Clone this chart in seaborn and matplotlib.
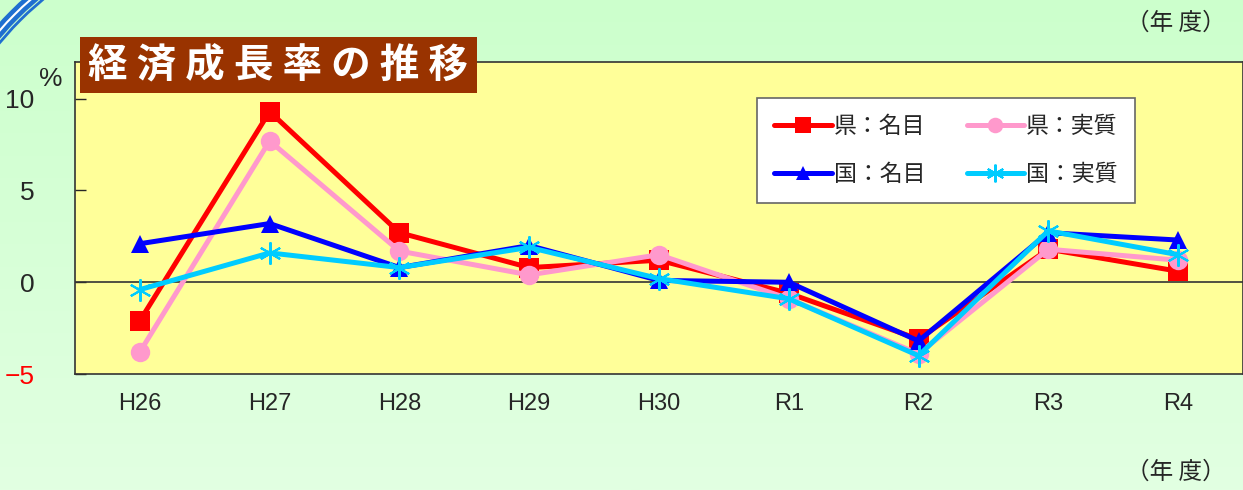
"""
経済成長率の推移（県・国　名目／実質）
"""

import matplotlib.pyplot as plt
import numpy as np
import pandas as pd
import seaborn as sns
from matplotlib import font_manager
from matplotlib.patches import Rectangle, Arc

years = ["H26", "H27", "H28", "H29", "H30", "R1", "R2", "R3", "R4"]
ken_nominal = [-2.1, 9.3, 2.7, 0.8, 1.2, -0.6, -3.1, 1.8, 0.6]
ken_real = [-3.8, 7.7, 1.7, 0.4, 1.5, -0.9, -3.9, 1.8, 1.2]
kuni_nominal = [2.1, 3.2, 0.8, 2.0, 0.1, 0.0, -3.2, 2.7, 2.3]
kuni_real = [-0.4, 1.6, 0.8, 1.9, 0.2, -0.9, -4.0, 2.8, 1.5]

series_names = ["県：名目", "県：実質", "国：名目", "国：実質"]
series_values = [ken_nominal, ken_real, kuni_nominal, kuni_real]
colors = ["#ff0000", "#ff99cc", "#0000ff", "#00ccff"]
markers = ["s", "o", "^", (6, 2, 0)]
msizes = [14, 14, 13, 16]

df = pd.DataFrame({
    "year": years * 4,
    "rate": sum(series_values, []),
    "series": np.repeat(series_names, len(years)),
})

sns.set_theme(style="white")
jp = "Noto Sans CJK JP"
avail = {f.name for f in font_manager.fontManager.ttflist}
num_font = "Liberation Sans Narrow" if "Liberation Sans Narrow" in avail else "Liberation Sans"
plt.rcParams["font.family"] = [jp, "DejaVu Sans"]

fig = plt.figure(figsize=(12.43, 4.90), dpi=100)

# 背景グラデーション
bg = fig.add_axes([0, 0, 1, 1], zorder=-10)
grad = np.linspace(0, 1, 256).reshape(-1, 1)
top = np.array([204, 255, 204]) / 255
bot = np.array([226, 255, 226]) / 255
img = top + (bot - top) * grad[..., None]
bg.imshow(img, aspect="auto", extent=[0, 1, 0, 1])
bg.axis("off")

# 左上の飾り
for d, lw, c in [(6.66, 8, "#1f6fd0"), (6.66, 1.5, "white"), (6.50, 2, "#1f6fd0")]:
    fig.add_artist(Arc((2.5, 2.4), d, d, theta1=120, theta2=150,
                       transform=fig.dpi_scale_trans, color=c, lw=lw))

ax = fig.add_axes([0.0603, 0.2367, 0.9397, 0.6367])
ax.set_facecolor("#ffff99")

for name, col, mk, ms in zip(series_names, colors, markers, msizes):
    sub = df[df["series"] == name]
    sns.lineplot(data=sub, x="year", y="rate", ax=ax, color=col, lw=3.6,
                 marker=mk, markersize=ms, mec=col, mew=1.5 if mk == (6, 2, 0) else 0,
                 label=name, sort=False)

ax.axhline(0, color="#333333", lw=1.2, zorder=1)
ax.set_xlim(-0.5, 8.5)
ax.set_ylim(-5, 12)
ax.set_yticks([-5, 0, 5, 10])
ax.set_yticklabels(["−5", "0", "5", "10"], fontfamily=num_font, fontsize=19)
ax.get_yticklabels()[0].set_color("#ff0000")
ax.tick_params(axis="y", direction="in", length=8, width=1, pad=29, left=True)
ax.tick_params(axis="x", length=0, pad=14)
for t in ax.get_xticklabels():
    t.set_fontfamily(num_font)
    t.set_fontsize(17)
ax.set_xlabel("")
ax.set_ylabel("")
for sp in ax.spines.values():
    sp.set_color("#333333")
    sp.set_linewidth(1.2)

handles, labels = ax.get_legend_handles_labels()
order = [0, 2, 1, 3]
leg = ax.legend([handles[i] for i in order], [labels[i] for i in order],
                ncol=2, loc="upper left", bbox_to_anchor=(0.584, 0.885),
                borderaxespad=0, fontsize=16.5, handlelength=2.5, handletextpad=0.1,
                columnspacing=1.8, labelspacing=1.1, borderpad=0.75,
                fancybox=False, framealpha=1, edgecolor="#666666", markerscale=0.8)
leg.get_frame().set_linewidth(1.2)

fig.text(0.041, 0.838, "%", fontsize=19, fontfamily=num_font, ha="center", va="center")

# タイトル
fig.add_artist(Rectangle((0.0644, 0.810), 0.3194, 0.114, transform=fig.transFigure,
                         facecolor="#993300", edgecolor="none", zorder=5))
fig.text(0.2237, 0.866, "経 済 成 長 率 の 推 移", color="white", fontsize=28.5,
         fontweight="bold", ha="center", va="center", zorder=6)

fig.text(0.986, 0.953, "（年 度）", fontsize=17, ha="right", va="center")
fig.text(0.986, 0.037, "（年 度）", fontsize=17, ha="right", va="center")

fig.savefig("out.png", dpi=100)
plt.close(fig)
